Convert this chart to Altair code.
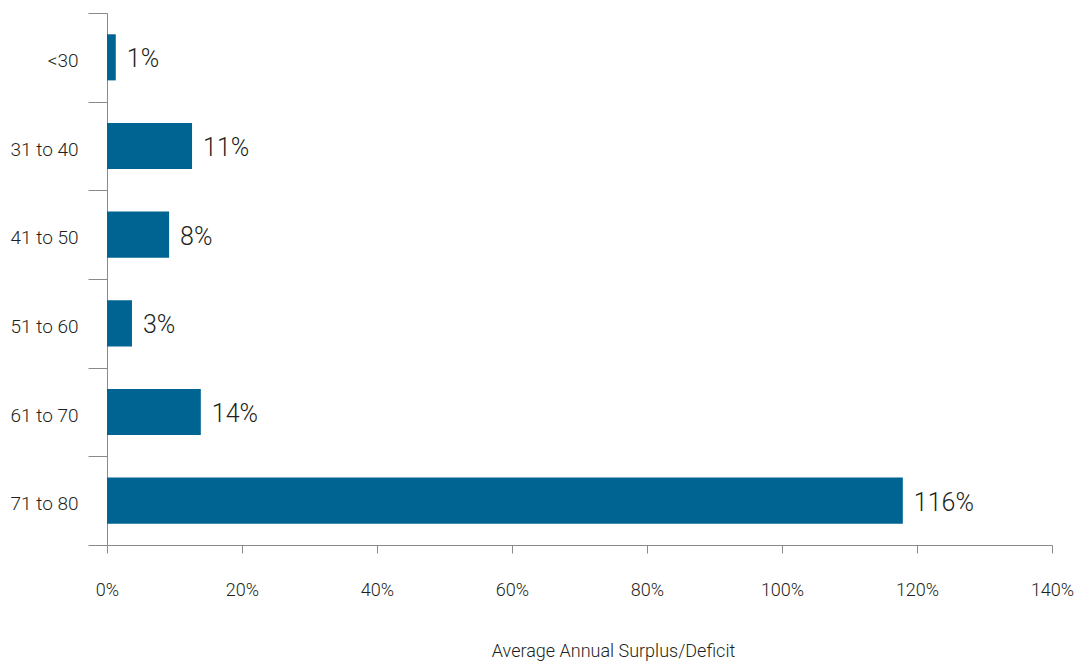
import altair as alt
import pandas as pd

categories = ["<30", "31 to 40", "41 to 50", "51 to 60", "61 to 70", "71 to 80"]
values = [1.3, 12.6, 9.2, 3.7, 13.9, 117.9]
labels = ["1%", "11%", "8%", "3%", "14%", "116%"]
x_ticks = [0, 20, 40, 60, 80, 100, 120, 140]

df = pd.DataFrame({"age": categories, "value": values, "label": labels})

FONT = "Roboto, sans-serif"
TXT = "#231f20"
GRAY = "#8a8a8a"

x_enc = alt.X(
    "value:Q",
    scale=alt.Scale(domain=[0, 140], nice=False, zero=True),
    axis=alt.Axis(
        values=x_ticks,
        labelExpr="datum.value + '%'",
        labelFlush=False,
        title="Average Annual Surplus/Deficit",
        grid=False,
        domainColor=GRAY,
        tickColor=GRAY,
        tickSize=8,
        labelPadding=28,
        labelFontSize=18,
        labelFontWeight=300,
        labelColor=TXT,
        labelFont=FONT,
        titleFont=FONT,
        titleFontSize=18,
        titleFontWeight=300,
        titleColor=TXT,
        titleX=506,
        titleY=111,
        titleBaseline="alphabetic",
        titleAlign="center",
    ),
)

y_enc = alt.Y(
    "age:N",
    sort=categories,
    scale=alt.Scale(paddingInner=0, paddingOuter=0),
    axis=alt.Axis(
        title=None,
        tickBand="extent",
        domainColor=GRAY,
        tickColor=GRAY,
        tickSize=19,
        labelPadding=10,
        labelOffset=3,
        labelFontSize=19,
        labelFontWeight=300,
        labelColor=TXT,
        labelFont=FONT,
    ),
)

bars = alt.Chart(df).mark_bar(
    color="#006492", height=alt.RelativeBandSize(band=0.52)
).encode(x=x_enc, y=y_enc)

text = alt.Chart(df).mark_text(
    align="left", baseline="middle", dx=11, dy=2, fontSize=25, fontWeight=300,
    font=FONT, color=TXT
).encode(x="value:Q", y=alt.Y("age:N", sort=categories), text="label:N")

chart = (
    alt.layer(bars, text)
    .properties(
        width=945,
        height=532,
        autosize=alt.AutoSizeParams(type="none"),
        padding={"left": 107, "top": 13, "right": 27, "bottom": 116},
    )
    .configure_view(stroke=None)
)

chart.save("out.html", embed_options={"renderer": "svg", "actions": False})
